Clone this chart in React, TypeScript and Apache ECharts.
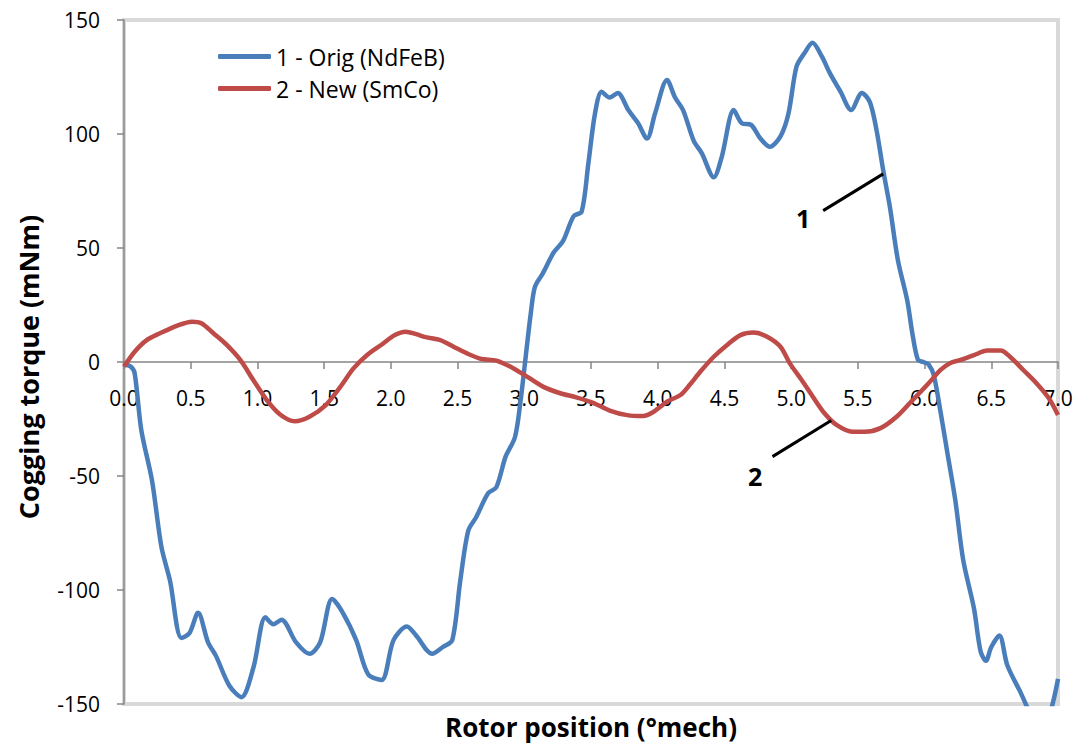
import React, { useEffect, useRef } from "react";
import * as echarts from "echarts";

// ---- Data ----
const origX = [
  0.0, 0.05, 0.08, 0.13, 0.21, 0.28, 0.345, 0.43, 0.49, 0.555, 0.63, 0.69, 0.79, 0.88, 0.97,
  1.06, 1.12, 1.18, 1.29, 1.39, 1.47, 1.56, 1.64, 1.74, 1.83, 1.93, 2.02, 2.12, 2.19, 2.31,
  2.39, 2.46, 2.52, 2.58, 2.64, 2.73, 2.79, 2.86, 2.93, 2.97, 3.01, 3.05, 3.08, 3.14, 3.22,
  3.29, 3.37, 3.43, 3.48, 3.53, 3.58, 3.64, 3.7, 3.78, 3.85, 3.92, 3.98, 4.07, 4.13, 4.19,
  4.27, 4.33, 4.42, 4.48, 4.57, 4.63, 4.7, 4.77, 4.84, 4.92, 4.98, 5.04, 5.1, 5.16, 5.23,
  5.29, 5.37, 5.45, 5.53, 5.59, 5.64, 5.69, 5.74, 5.8, 5.87, 5.91, 5.95, 5.99, 6.03, 6.07,
  6.12, 6.17, 6.23, 6.29, 6.37, 6.42, 6.46, 6.5, 6.56, 6.62, 6.72, 6.8, 6.88, 6.95, 7.0,
];
const origY = [
  -1, -2, -5, -30, -52, -81, -96, -121, -119, -110, -123, -129, -142, -147, -134,
  -112, -115, -113, -123, -128, -123, -104, -110, -122, -137, -139.5, -122, -116, -120, -128,
  -125, -122, -96, -74, -68, -57.5, -55, -41.5, -33, -18, 2, 22, 33, 39, 48,
  53, 64, 66, 87, 109, 118.5, 116, 118, 110.5, 105, 98, 109, 123.7, 116, 110.5,
  97, 91.6, 81, 90, 110.5, 104.7, 104, 98, 94.4, 99, 109, 129.5, 135.5, 140, 134,
  126.7, 118.6, 110.5, 118, 114, 101.7, 84, 68, 44.7, 27, 12, 1, 0, -1, -6,
  -22, -39.5, -60.5, -87, -108, -127, -131, -125, -120, -133, -145, -155, -161, -152, -139,
];

const newX = [
  0.0, 0.08, 0.17, 0.27, 0.4, 0.51, 0.58, 0.67, 0.77, 0.87, 0.97, 1.07, 1.17, 1.28, 1.39,
  1.51, 1.62, 1.72, 1.82, 1.94, 2.03, 2.11, 2.19, 2.26, 2.37, 2.47, 2.58, 2.68, 2.79, 2.92,
  3.02, 3.14, 3.27, 3.39, 3.52, 3.64, 3.77, 3.89, 3.97, 4.07, 4.17, 4.24, 4.32, 4.42, 4.52,
  4.62, 4.72, 4.82, 4.92, 4.99, 5.08, 5.16, 5.25, 5.34, 5.46, 5.55, 5.67, 5.79, 5.89, 6.02,
  6.12, 6.19, 6.27, 6.37, 6.47, 6.57, 6.64, 6.74, 6.84, 6.93, 7.0,
];
const newY = [
  -2, 4.5, 9.6, 12.6, 16, 17.7, 17, 12.6, 7.5, 1, -8, -16.7, -23, -26, -24,
  -19, -11, -2.8, 3, 8, 11.8, 13.3, 12.2, 10.9, 9.6, 6.7, 3.5, 1.3, 0.6, -2.8,
  -6.4, -10.8, -13.7, -15.5, -18, -21.3, -23.3, -23.7, -21.8, -17.4, -14.5, -10, -4.2, 2.3, 7.5,
  11.8, 12.9, 11.1, 6.7, -0.6, -8, -15, -22.5, -27.6, -30.6, -30.6, -29, -24, -18, -10,
  -3.5, -0.5, 0.9, 3, 5, 5, 2.3, -3.5, -9.4, -15.8, -23.2,
];

const seriesNames = ["1 - Orig (NdFeB)", "2 - New (SmCo)"];
const xTicks = { min: 0, max: 7, step: 0.5 };
const yTicks = { min: -150, max: 150, step: 50 };
const axisTitles = { x: "Rotor position (°mech)", y: "Cogging torque (mNm)" };

// callouts: label text, label anchor, leader line start/end (data units)
const callouts = [
  { text: "1", label: [5.09, 63], from: [5.24, 66.4], to: [5.69, 82.5] },
  { text: "2", label: [4.73, -50], from: [4.86, -41.5], to: [5.3, -25.7] },
];

const FONT = "'Open Sans', 'DejaVu Sans', sans-serif";
const BLUE = "#4A7EBB";
const RED = "#BE4B48";
const AXIS = "#868686";

const GRID = { left: 124, right: 24, top: 20, bottom: 40 };
const H = 744;

const zip = (xs: number[], ys: number[]) => xs.map((x, i) => [x, ys[i]]);

export default function App() {
  const ref = useRef<HTMLDivElement>(null);
  useEffect(() => {
    if (!ref.current) return;
    const chart = echarts.init(ref.current, null, { renderer: "svg" });
    const plotH = H - GRID.top - GRID.bottom;
    // lift the x axis from the bottom of the grid to the value 0 of the y axis
    const zeroOffset = -plotH * (0 - yTicks.min) / (yTicks.max - yTicks.min);
    chart.setOption({
      animation: false,
      backgroundColor: "#ffffff",
      textStyle: { fontFamily: FONT },
      grid: {
        ...GRID,
        show: true,
        borderColor: "#d9d9d9",
        borderWidth: 4,
        backgroundColor: "transparent",
      },
      legend: {
        orient: "vertical",
        left: 213,
        top: 40,
        itemWidth: 53,
        itemHeight: 5,
        itemGap: 9,
        icon: "roundRect",
        data: seriesNames,
        textStyle: { fontFamily: FONT, fontSize: 23, color: "#000" },
      },
      xAxis: {
        type: "value",
        min: xTicks.min,
        max: xTicks.max,
        interval: xTicks.step,
        position: "bottom",
        offset: zeroOffset,
        axisLine: { show: true, onZero: false, lineStyle: { color: AXIS, width: 1.5 } },
        axisTick: { show: true, inside: false, length: 7, lineStyle: { color: AXIS, width: 1.5 } },
        axisLabel: {
          margin: 25,
          fontSize: 21,
          fontFamily: FONT,
          color: "#000",
          formatter: (v: number) => v.toFixed(1),
        },
        splitLine: { show: false },
      },
      yAxis: {
        type: "value",
        min: yTicks.min,
        max: yTicks.max,
        interval: yTicks.step,
        axisLine: { show: true, lineStyle: { color: AXIS, width: 1.5 } },
        axisTick: { show: true, inside: false, length: 7, lineStyle: { color: AXIS, width: 1.5 } },
        axisLabel: { margin: 24, fontSize: 21, fontFamily: FONT, color: "#000" },
        splitLine: { show: false },
      },
      series: [
        {
          name: seriesNames[0],
          type: "line",
          data: zip(origX, origY),
          showSymbol: false,
          symbol: "none",
          smooth: 0.3,
          clip: true,
          lineStyle: { color: BLUE, width: 4.5 },
          itemStyle: { color: BLUE },
          z: 3,
        },
        {
          name: seriesNames[1],
          type: "line",
          data: zip(newX, newY),
          showSymbol: false,
          symbol: "none",
          smooth: 0.3,
          clip: true,
          lineStyle: { color: RED, width: 4.5 },
          itemStyle: { color: RED },
          z: 3,
        },
      ],
    });

    const px = (p: number[]) => chart.convertToPixel({ gridIndex: 0 }, p) as number[];
    const graphics: any[] = [];
    callouts.forEach((c) => {
      const a = px(c.from);
      const b = px(c.to);
      const l = px(c.label);
      graphics.push({
        type: "line",
        shape: { x1: a[0], y1: a[1], x2: b[0], y2: b[1] },
        style: { stroke: "#000", lineWidth: 3 },
        z: 10,
      });
      graphics.push({
        type: "text",
        x: l[0],
        y: l[1],
        style: {
          text: c.text,
          fontFamily: FONT,
          fontWeight: "bold",
          fontSize: 25,
          fill: "#000",
          align: "center",
          verticalAlign: "middle",
        },
        z: 10,
      });
    });
    graphics.push({
      type: "text",
      x: 591,
      y: 727,
      style: {
        text: axisTitles.x,
        fontFamily: FONT,
        fontWeight: "bold",
        fontSize: 26,
        fill: "#000",
        align: "center",
        verticalAlign: "middle",
      },
    });
    graphics.push({
      type: "text",
      x: 28,
      y: 367,
      rotation: Math.PI / 2,
      style: {
        text: axisTitles.y,
        fontFamily: FONT,
        fontWeight: "bold",
        fontSize: 27,
        fill: "#000",
        align: "center",
        verticalAlign: "middle",
      },
    });
    chart.setOption({ graphic: graphics });

    return () => chart.dispose();
  }, []);
  return (
    <div
      ref={ref}
      style={{ position: "absolute", left: 0, top: 0, width: 1082, height: 744, background: "#fff" }}
    />
  );
}
